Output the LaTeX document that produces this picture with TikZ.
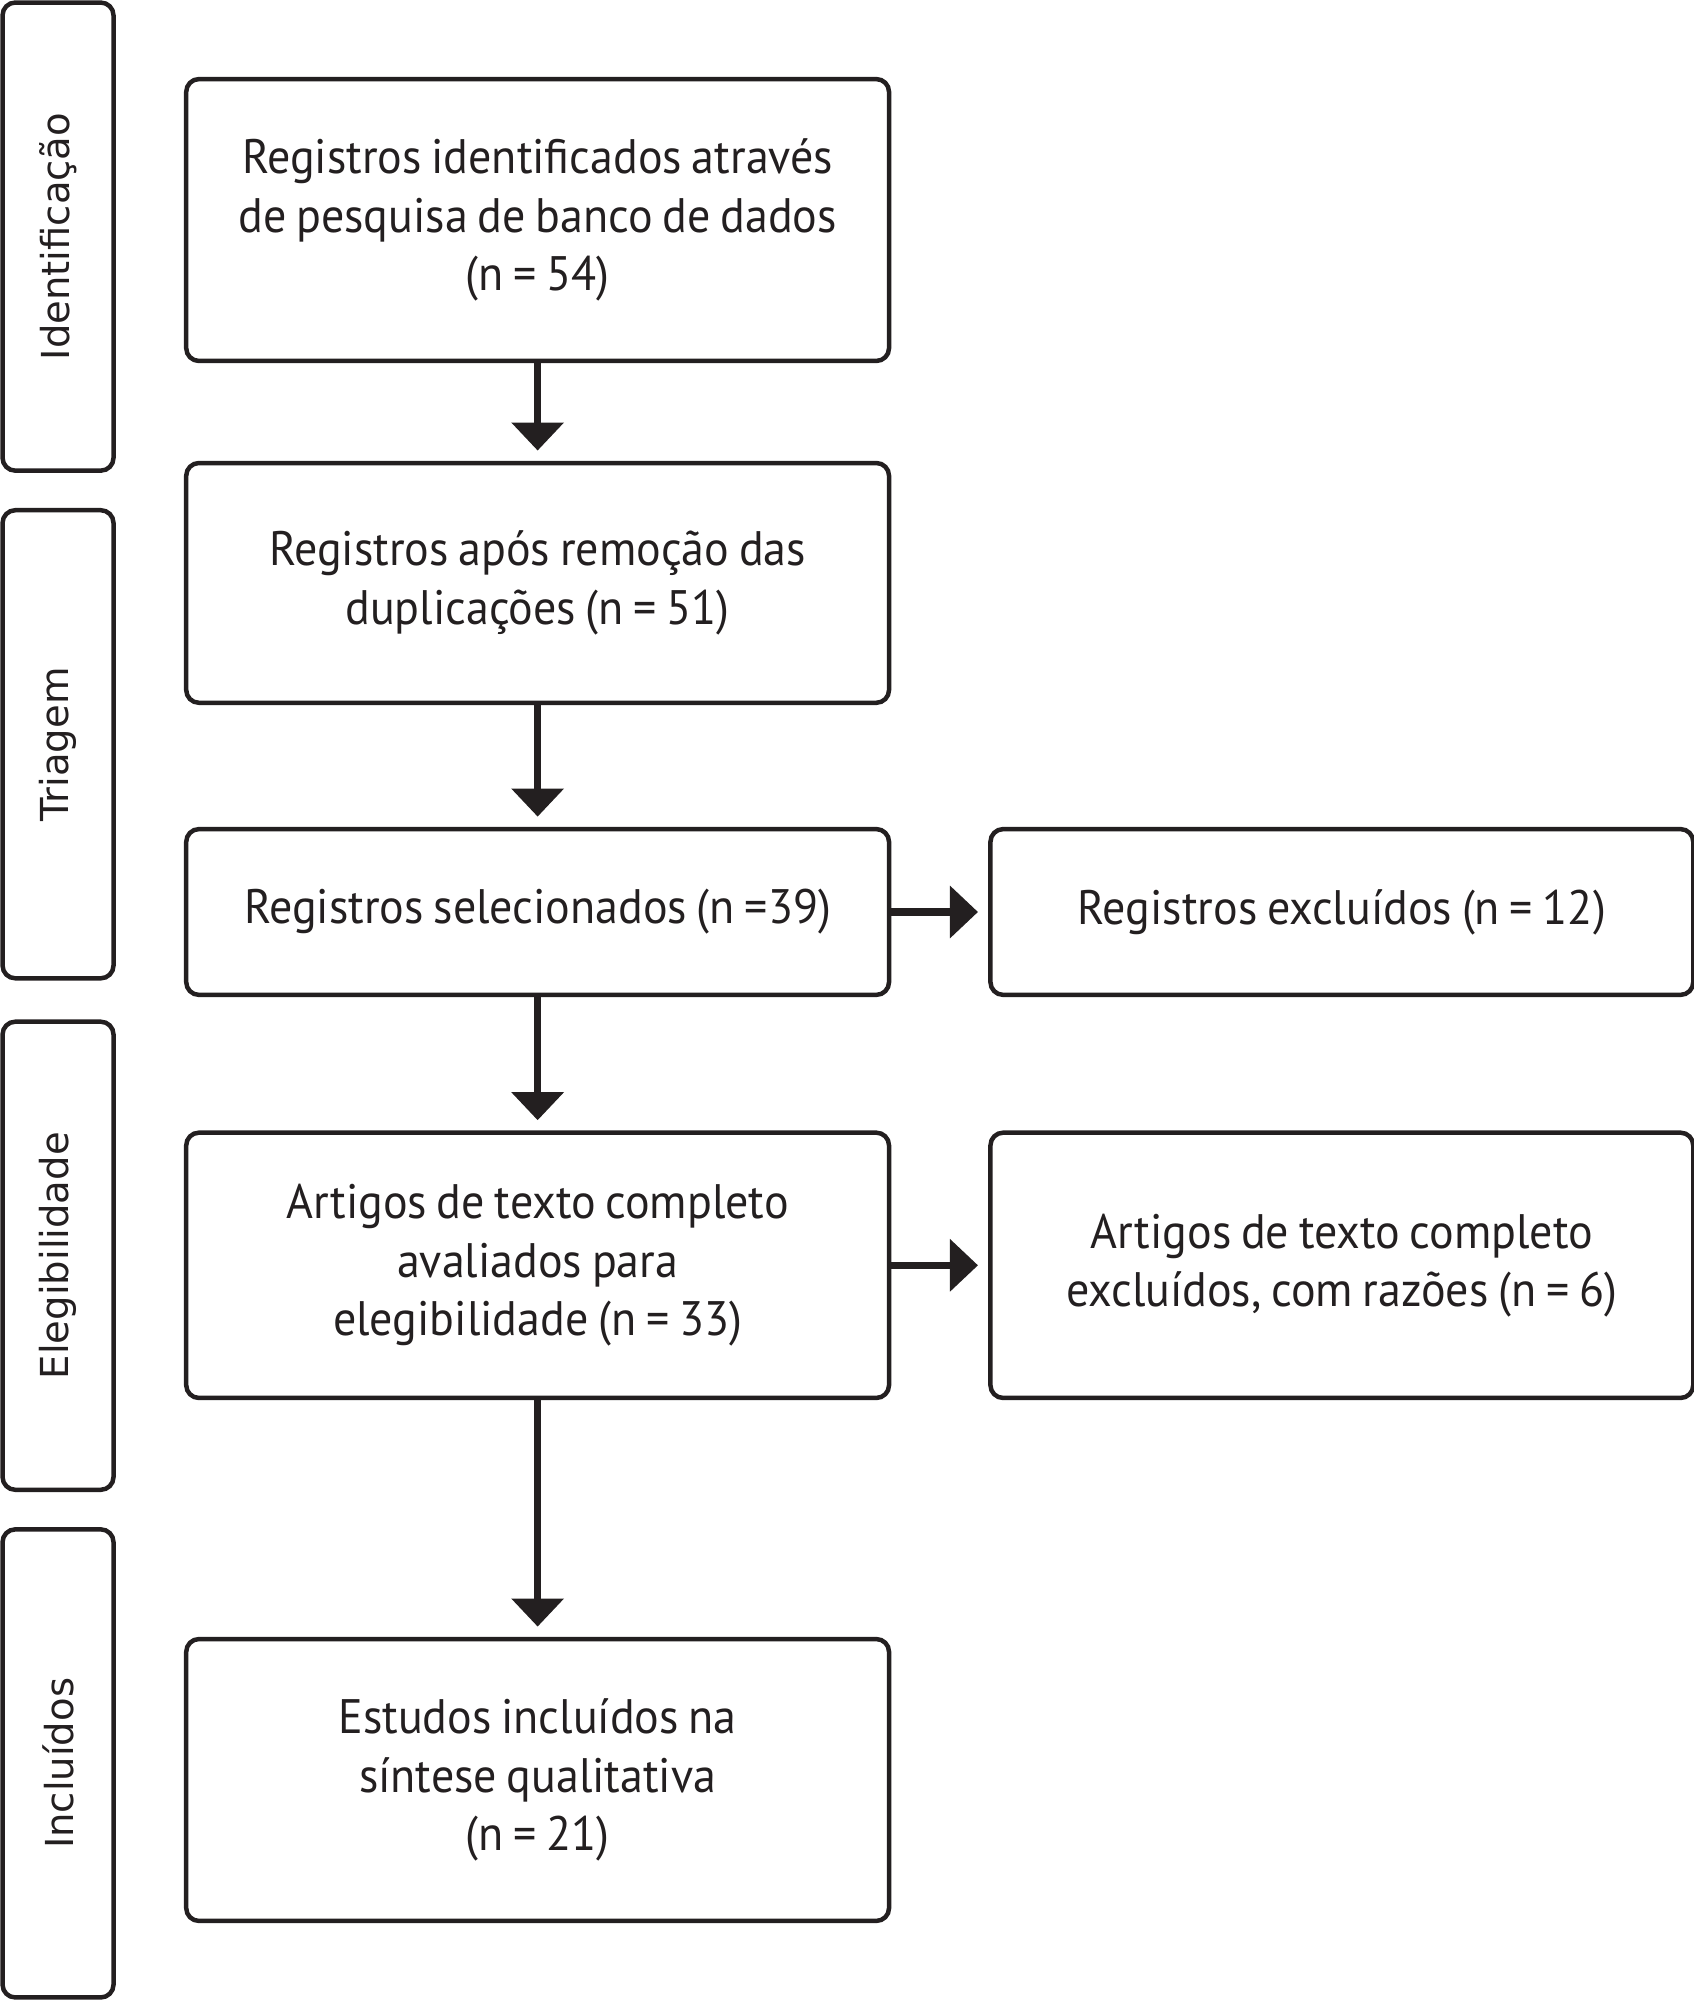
\documentclass[tikz,border=0pt]{standalone}
\usepackage{fontspec}
\setmainfont{PT Sans}[WordSpace=0.8, FakeStretch=0.95]
\newfontfamily\sidefont{DejaVu Sans}
\usepackage{tikz}
\usetikzlibrary{arrows.meta}
\definecolor{ink}{HTML}{231F20}
\tikzset{
  box/.style={draw=ink, line width=1pt, rounded corners=0.1cm, align=center,
    text=ink, font=\fontsize{10.8}{13}\selectfont, inner sep=0pt, minimum width=5.51cm},
  phase/.style={draw=ink, line width=1pt, rounded corners=0.1cm, rotate=90,
    minimum width=3.67cm, minimum height=0.87cm, inner sep=0pt,
    text=ink, font=\sidefont\fontsize{8.6}{10}\selectfont},
  flow/.style={draw=ink, line width=1.6pt, -{Triangle[length=0.22cm,width=0.40cm]}, shorten >=0.08cm}
}

\begin{document}
\begin{tikzpicture}
  \useasboundingbox (0,0) rectangle (13.28,-15.68);

  % phases on the left
  \node[phase] (ident) at (0.455,-1.855) {Identificação};
  \node[phase] (triag) at (0.455,-5.835) {Triagem};
  \node[phase] (eleg)  at (0.455,-9.845) {Elegibilidade};
  \node[phase] (incl)  at (0.455,-13.825) {Incluídos};

  % main column
  \node[box, minimum height=2.21cm] (ident1) at (4.215,-1.725)
    {Registros identificados através\\de pesquisa de banco de dados\\(n = 54)};
  \node[box, minimum height=1.88cm] (dupl) at (4.215,-4.57)
    {Registros após remoção das\\duplicações (n = 51)};
  \node[box, minimum height=1.30cm] (sel) at (4.215,-7.15)
    {Registros selecionados (n =39)};
  \node[box, minimum height=2.08cm] (full) at (4.215,-9.92)
    {Artigos de texto completo\\avaliados para\\elegibilidade (n = 33)};
  \node[box, minimum height=2.21cm] (incl1) at (4.215,-13.955)
    {Estudos incluídos na\\síntese qualitativa\\(n = 21)};

  % excluded column
  \node[box, minimum height=1.30cm] (exc) at (10.52,-7.15)
    {Registros excluídos (n = 12)};
  \node[box, minimum height=2.08cm] (fullexc) at (10.52,-9.92)
    {Artigos de texto completo\\excluídos, com razões (n = 6)};

  \draw[flow] (ident1) -- (dupl);
  \draw[flow] (dupl) -- (sel);
  \draw[flow] (sel) -- (full);
  \draw[flow] (full) -- (incl1);
  \draw[flow] (sel) -- (exc);
  \draw[flow] (full) -- (fullexc);
\end{tikzpicture}
\end{document}
